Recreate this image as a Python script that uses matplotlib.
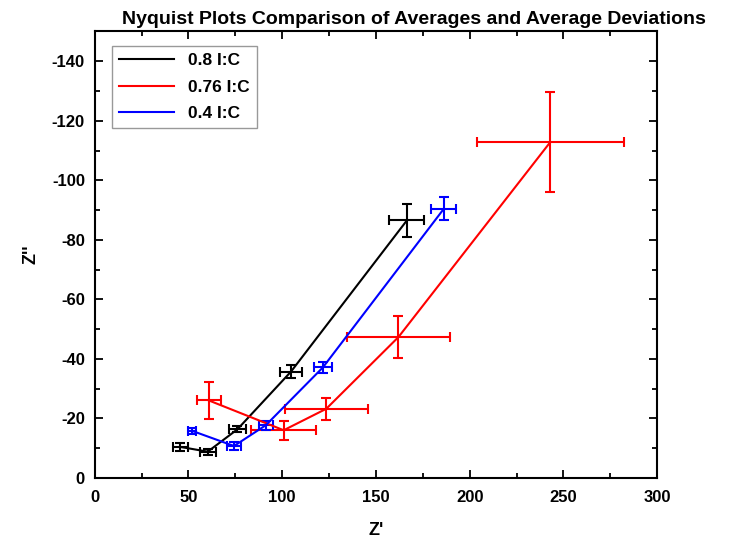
import matplotlib
matplotlib.use("Agg")
import matplotlib.pyplot as plt
from matplotlib.ticker import MultipleLocator

plt.rcParams['font.family'] = ['Liberation Sans', 'DejaVu Sans']
plt.rcParams['font.weight'] = 'bold'
plt.rcParams['axes.unicode_minus'] = False

labels = ["0.8 I:C", "0.76 I:C", "0.4 I:C"]
colors = ["black", "red", "blue"]

# Z' (real part) and Z'' (imaginary part) averages with average deviations
x_08 = [45.6, 60.3, 76.1, 104.7, 166.5]
y_08 = [-10.4, -8.8, -16.3, -35.7, -86.5]
xerr_08 = [3.9, 4.3, 4.5, 5.8, 9.4]
yerr_08 = [1.3, 1.0, 1.0, 2.2, 5.4]

x_076 = [60.9, 100.8, 123.5, 162.0, 243.1]
y_076 = [-26.0, -16.0, -23.2, -47.3, -112.9]
xerr_076 = [6.6, 17.4, 22.2, 27.3, 39.3]
yerr_076 = [6.3, 3.2, 3.7, 7.1, 16.7]

x_04 = [51.9, 74.3, 91.3, 121.7, 186.2]
y_04 = [-15.8, -10.7, -17.7, -37.1, -90.4]
xerr_04 = [2.2, 3.6, 3.8, 4.7, 6.6]
yerr_04 = [1.0, 1.2, 1.5, 1.8, 3.9]

series = [
    (x_08, y_08, xerr_08, yerr_08),
    (x_076, y_076, xerr_076, yerr_076),
    (x_04, y_04, xerr_04, yerr_04),
]

fig = plt.figure(figsize=(7.4, 5.43), dpi=100)
ax = fig.add_axes([0.128, 0.120, 0.760, 0.822])

for (x, y, xe, ye), lab, c in zip(series, labels, colors):
    ax.errorbar(x, y, xerr=xe, yerr=ye, color=c, lw=1.5, elinewidth=1.5,
                capsize=3.5, capthick=1.5, label=lab)

ax.set_xlim(0, 300)
ax.set_ylim(0, -150)
ax.xaxis.set_major_locator(MultipleLocator(50))
ax.xaxis.set_minor_locator(MultipleLocator(25))
ax.yaxis.set_minor_locator(MultipleLocator(10))
ax.set_yticks([0, -20, -40, -60, -80, -100, -120, -140])
ax.tick_params(which='both', direction='in', top=True, right=True,
               labelsize=12, width=1.3)
ax.tick_params(which='major', length=6)
ax.tick_params(axis='x', which='major', pad=9)
ax.tick_params(axis='y', which='major', pad=7)
ax.tick_params(which='minor', length=3.5)
for s in ax.spines.values():
    s.set_linewidth(1.5)

ax.set_xlabel("Z'", fontsize=13, fontweight='bold', labelpad=12)
ax.set_ylabel("Z''", fontsize=13, fontweight='bold', labelpad=9)
fig.text(0.56, 0.965, "Nyquist Plots Comparison of Averages and Average Deviations",
         fontsize=14, fontweight='bold', ha='center', va='center')

h, l = ax.get_legend_handles_labels()
h = [hh[0] for hh in h]
leg = ax.legend(h, l, loc='upper left', fontsize=12.5, fancybox=False,
                edgecolor='gray', handlelength=3.2, borderaxespad=0.6,
                labelspacing=0.65, bbox_to_anchor=(0.012, 0.99))
leg.get_frame().set_linewidth(1.0)

fig.savefig("out.png", dpi=100)
